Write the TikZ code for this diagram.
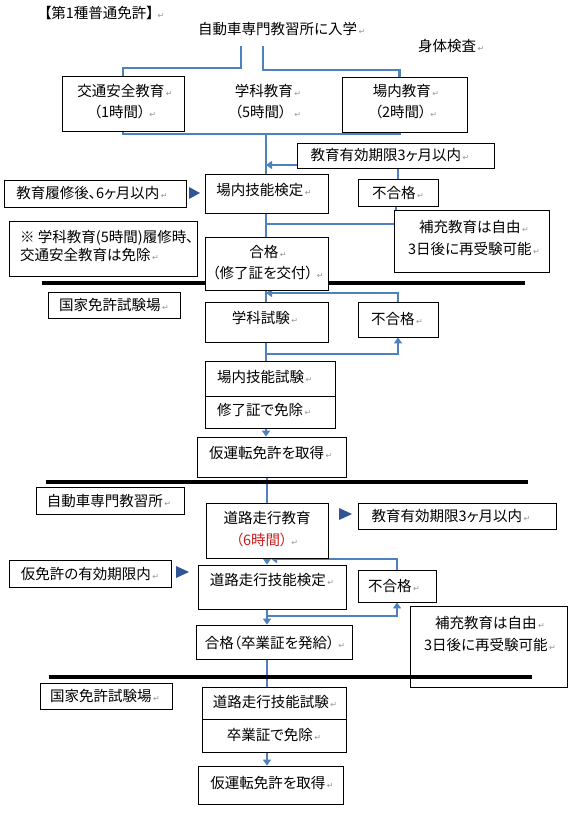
\documentclass[tikz,border=0pt]{standalone}
\usepackage{fontspec}
\setmainfont{Noto Sans CJK JP}[RawFeature=+palt]
\newfontfamily\dejavu{DejaVu Sans}
\usetikzlibrary{fit,arrows.meta}
\definecolor{lineblue}{RGB}{79,129,189}
\definecolor{tricol}{RGB}{47,85,151}
\definecolor{redtxt}{RGB}{200,30,30}
\definecolor{markgray}{RGB}{150,150,150}
\newcommand{\rt}{\hspace{1.5pt}{\dejavu\fontsize{8}{8}\selectfont\color{markgray}↵}}
\newcommand{\rtw}{\hspace{4pt}{\dejavu\fontsize{8}{8}\selectfont\color{markgray}↵}}
\pgfdeclarelayer{bg}
\pgfsetlayers{bg,main}
\tikzset{
 box/.style={draw=black, line width=0.8pt, fill=white, inner sep=0pt},
 txt/.style={inner sep=0pt, font=\fontsize{14.5}{21}\selectfont, align=center},
 txtwide/.style={txt, font=\fontsize{14.5}{22}\selectfont},
 conn/.style={draw=lineblue, line width=2.4pt},
 arr/.style={conn, -{Triangle[length=6pt,width=8pt]}},
 rulebar/.style={draw=black, line width=3.5pt},
}
\begin{document}
\begin{tikzpicture}[x=1pt,y=-1pt]
\useasboundingbox (0,0) rectangle (571,820);
% ---------- section 1 ----------
\node[txt, anchor=west] (title) at (44,13) {【第1種普通免許】\rtw};
\node[txt, anchor=west] (nyugaku) at (198,29) {自動車専門教習所に入学\rt};
\node[txt, anchor=west] (shintai) at (418,46) {身体検査\rt};
\node[box, fit={(62,76)(184,131)}] (kotsu) {};
\node[txt] (kotsuT) at (125,102) {交通安全教育\rt\\（1時間）\rtw};
\node[txt] (gakkaT) at (268,102) {学科教育\rt\\（5時間）\ \ \rt};
\node[box, fit={(342,77)(467,132)}] (jonai) {};
\node[txt] (jonaiT) at (406,102) {場内教育\rt\\（2時間）\rtw};
\node[box, fit={(297,143)(494,168)}] (yuko1) {};
\node[txt] (yuko1T) at (390,155) {教育有効期限3ヶ月以内\rt};
\node[box, fit={(4,180)(186,207)}] (rishu) {};
\node[txt] (rishuT) at (92,193) {教育履修後、6ヶ月以内\rt};
\node[box, fit={(205,174)(328,213)}] (kentei) {};
\node[txt] (kenteiT) at (264,190) {場内技能検定\rt};
\node[box, fit={(358,179)(438,206)}] (fugo1) {};
\node[txt] (fugo1T) at (398,193) {不合格\rt};
\node[box, fit={(394,210)(549,272)}] (hoju1) {};
\node[txtwide] (hoju1T) at (474,238) {補充教育は自由\rt\\3日後に再受験可能\rt};
\node[box, fit={(9,221)(197,276)}] (note) {};
\node[txt, anchor=west, align=left, font=\fontsize{14.5}{18}\selectfont] (noteT) at (20,246) {※ 学科教育(5時間)履修時、\\交通安全教育は免除\rt};
\node[box, fit={(205,237)(328,290)}] (gokaku1) {};
\node[txt] (gokaku1T) at (268,263) {合格\rt\\（修了証を交付）\rtw};
% ---------- section 2 ----------
\node[box, fit={(48,292)(180,318)}] (kokka1) {};
\node[txt] (kokka1T) at (114,305) {国家免許試験場\rt};
\node[box, fit={(205,302)(328,342)}] (gakushi) {};
\node[txt] (gakushiT) at (265,318) {学科試験\rt};
\node[box, fit={(358,302)(438,337)}] (fugo2) {};
\node[txt] (fugo2T) at (397,319) {不合格\rt};
\node[box, fit={(205,361)(335,396)}] (jgiA) {};
\node[box, fit={(205,396)(335,428)}] (jgiB) {};
\node[txt, anchor=west] (jgiAT) at (217,377) {場内技能試験\rt};
\node[txt, anchor=west] (jgiBT) at (217,410) {修了証で免除\rt};
\node[box, fit={(197,437)(346,477)}] (karimen1) {};
\node[txt, anchor=west] (karimen1T) at (209,453) {仮運転免許を取得\rt};
% ---------- section 3 ----------
\node[box, fit={(36,487)(184,514)}] (kyoshu) {};
\node[txt] (kyoshuT) at (109,501) {自動車専門教習所\rt};
\node[box, fit={(206,503)(328,558)}] (doro) {};
\node[txtwide] (doroT) at (267,529) {道路走行教育\\{\color{redtxt}（6時間）}\rtw};
\node[box, fit={(358,503)(556,529)}] (yuko2) {};
\node[txt] (yuko2T) at (451,516) {教育有効期限3ヶ月以内\rt};
\node[box, fit={(9,560)(171,587)}] (karimenyuko) {};
\node[txt] (karimenyukoT) at (90,574) {仮免許の有効期限内\rt};
\node[box, fit={(198,565)(346,609)}] (dkentei) {};
\node[txt] (dkenteiT) at (272,580) {道路走行技能検定\rt};
\node[box, fit={(358,570)(436,602)}] (fugo3) {};
\node[txt] (fugo3T) at (394,586) {不合格\rt};
\node[box, fit={(410,606)(567,687)}] (hoju2) {};
\node[txtwide] (hoju2T) at (490,634) {補充教育は自由\rt\\3日後に再受験可能\rt};
\node[box, fit={(196,625)(352,659)}] (gokaku2) {};
\node[txt] (gokaku2T) at (275,643) {合格（卒業証を発給）\rtw};
% rule over the lower box
\draw[rulebar] (49,677) -- (532,677);
% ---------- section 4 ----------
\node[box, fit={(40,683)(172,709)}] (kokka2) {};
\node[txt] (kokka2T) at (105,696) {国家免許試験場\rt};
\node[box, fit={(202,687)(346,719)}] (dshikenA) {};
\node[box, fit={(202,719)(346,752)}] (dshikenB) {};
\node[txt] (dshikenAT) at (275,702) {道路走行技能試験\rt};
\node[txt] (dshikenBT) at (274,735) {卒業証で免除\rt};
\node[box, fit={(198,766)(343,804)}] (karimen2) {};
\node[txt] (karimen2T) at (272,783) {仮運転免許を取得\rt};
% triangles
\fill[tricol] (189,187) -- (200,193) -- (189,199) -- cycle;
\fill[tricol] (339,508) -- (352,514) -- (339,520) -- cycle;
\fill[tricol] (176,566) -- (189,572) -- (176,578) -- cycle;
% ---------- connectors ----------
\coordinate (s1) at (241,46);
\coordinate (s2) at (263,46);
\coordinate (hub1) at (266,134);
\coordinate (j1) at (266,165);
\coordinate (hub2) at (266,224);
\coordinate (j2) at (266,293);
\coordinate (hub3) at (266,354);
\coordinate (sp3) at (267,0);
\coordinate (j3) at (271,559);
\coordinate (hub4) at (267,616);
\begin{pgfonlayer}{bg}
\fill[white] (0,0) rectangle (571,820);
\draw[conn] (s1) -- ++(0,22) -| (kotsu.north);
\draw[conn] (s2) -- ++(0,24) -| ([xshift=-5pt]jonai.north);
\draw[conn] (kotsu.south) |- (hub1) -| ([xshift=-5pt]jonai.south);
\draw[conn] (hub1) -- (hub1 |- kentei.north);
\draw[arr] (fugo1.north) |- (j1);
\draw[conn] (hub1 |- kentei.south) -- (hub1 |- gokaku1.north);
\draw[conn] (hub2) -| ([xshift=-2pt]fugo1.south);
\draw[conn] (hub1 |- gokaku1.south) -- (hub1 |- gakushi.north);
\draw[arr] (fugo2.north) |- (j2);
\draw[conn] (hub1 |- gakushi.south) -- (hub1 |- jgiA.north);
\draw[arr] (hub3) -| (fugo2.south);
\draw[arr] (hub1 |- jgiB.south) -- (hub1 |- karimen1.north);
\draw[conn] (sp3 |- karimen1.south) -- (sp3 |- doro.north);
\draw[arr] (sp3 |- doro.south) -- (sp3 |- dkentei.north);
\draw[arr] (fugo3.north) |- (j3);
\draw[arr] (sp3 |- dkentei.south) -- (sp3 |- gokaku2.north);
\draw[arr] (hub4) -| (fugo3.south);
\draw[conn] (sp3 |- gokaku2.south) -- (sp3 |- dshikenA.north);
\draw[arr] (sp3 |- dshikenB.south) -- (sp3 |- karimen2.north);
% section rules
\draw[rulebar] (42,283) -- (525,283);
\draw[rulebar] (46,482) -- (528,482);
\end{pgfonlayer}
\end{tikzpicture}
\end{document}
